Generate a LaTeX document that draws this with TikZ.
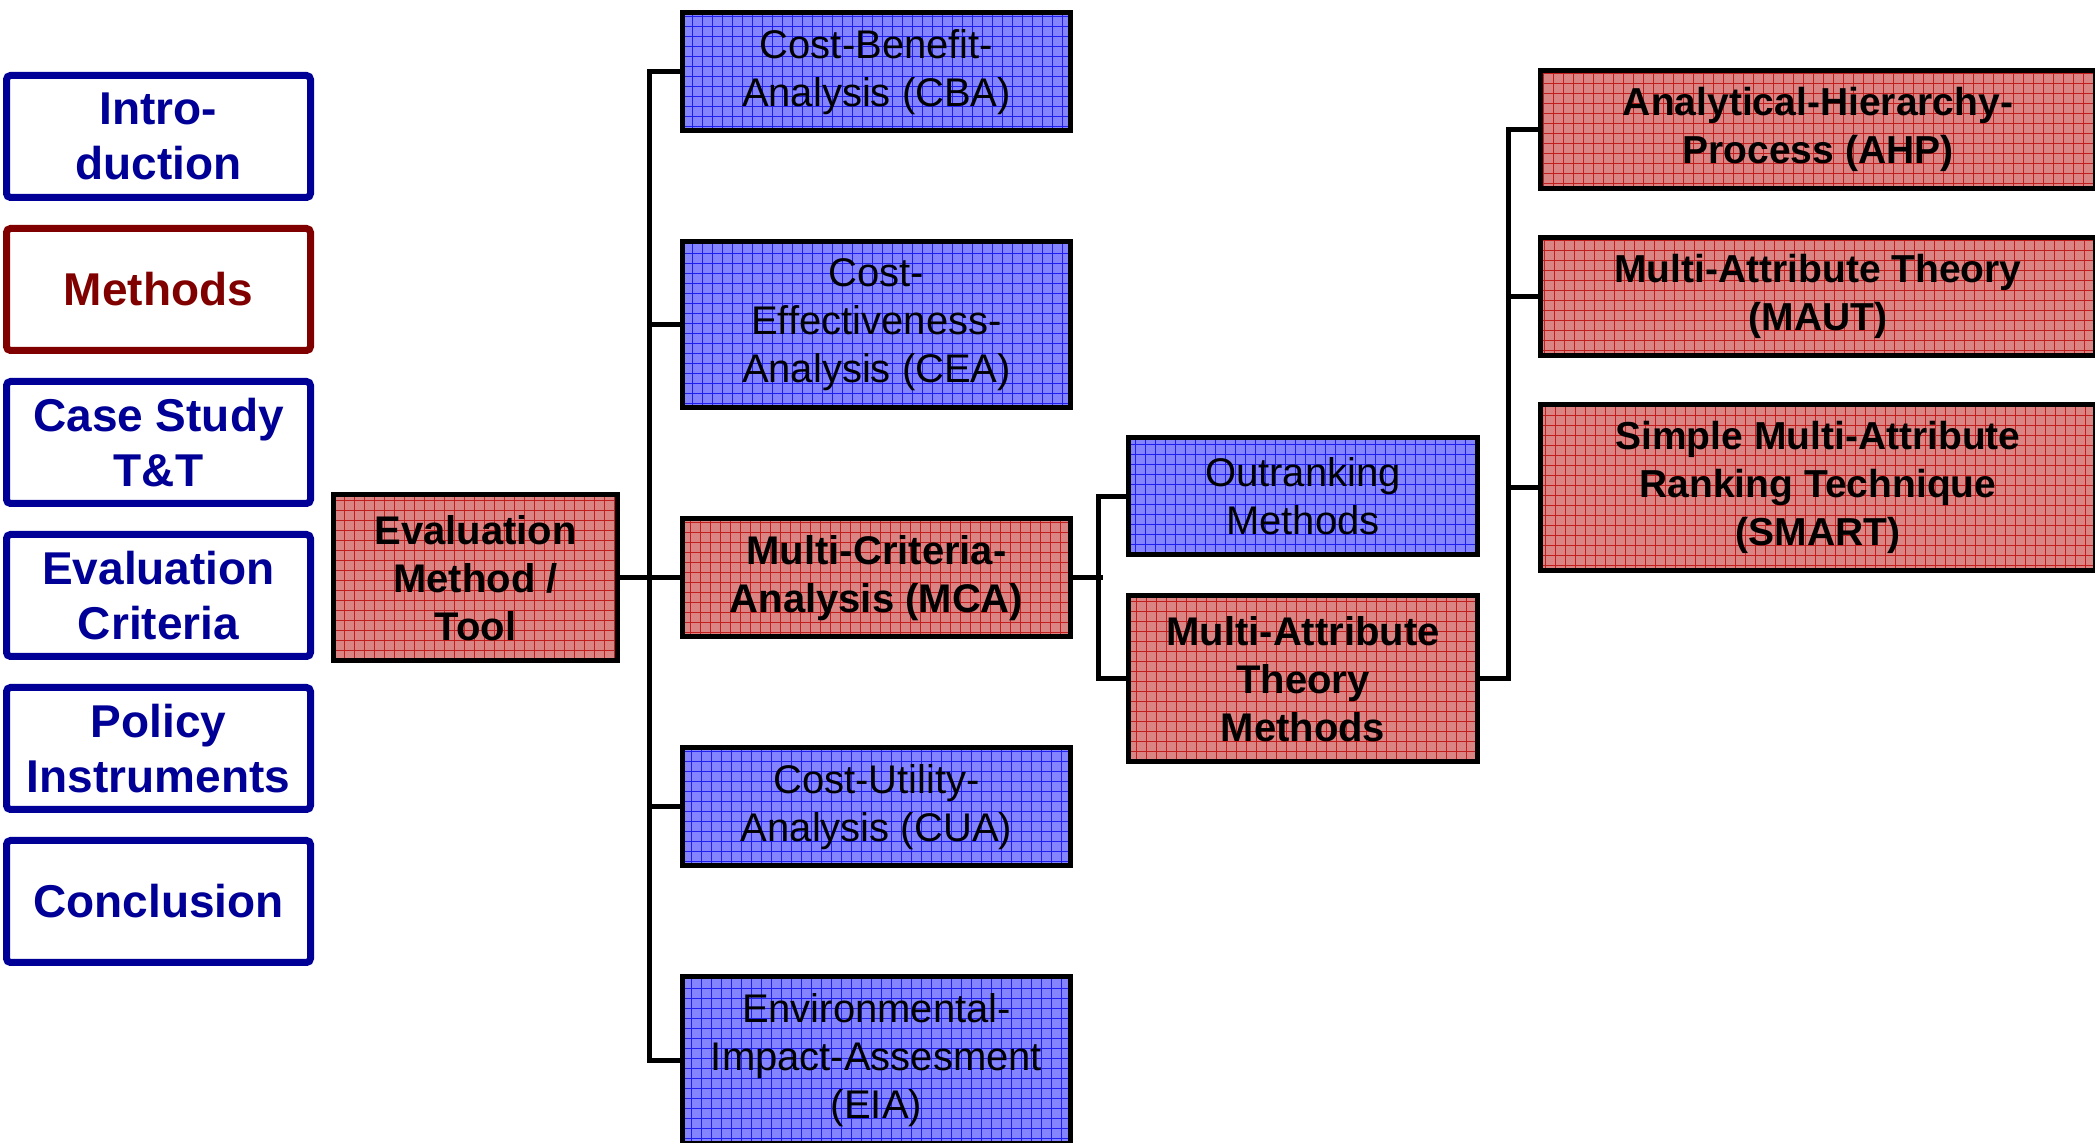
\documentclass[tikz,border=0pt]{standalone}
\usepackage{fontspec}
\setmainfont{Liberation Sans}
\usepackage{xcolor}
\usetikzlibrary{positioning}

\definecolor{navblue}{RGB}{0,0,150}
\definecolor{navred}{RGB}{128,0,0}
\definecolor{fillblue}{RGB}{132,132,255}
\definecolor{fillred}{RGB}{218,132,132}
\definecolor{gridblue}{RGB}{30,30,240}
\definecolor{gridred}{RGB}{195,30,30}

\begin{document}
\begin{tikzpicture}[
    x=0.5pt, y=0.5pt,
    node distance=12pt,
    nav/.style={draw=navblue, text=navblue, line width=3.5pt, rounded corners=2pt,
                minimum width=152pt, minimum height=61pt, align=center,
                font=\fontsize{23}{27.5}\selectfont\bfseries},
    navcur/.style={nav, draw=navred, text=navred},
    box/.style={draw=black, line width=2.5pt, align=center, inner sep=1pt,
                font=\fontsize{20}{24}\selectfont},
    bluebox/.style={box, fill=fillblue,
                path picture={\draw[gridblue, line width=0.3pt, step=5pt]
                  (path picture bounding box.south west) grid (path picture bounding box.north east);}},
    redbox/.style={box, fill=fillred, font=\fontsize{20}{24}\selectfont\bfseries,
                path picture={\draw[gridred, line width=0.3pt, step=5pt]
                  (path picture bounding box.south west) grid (path picture bounding box.north east);}},
    midbox/.style={minimum width=194pt, minimum height=59pt},
    tallbox/.style={minimum width=194pt, minimum height=83pt},
    rightbox/.style={minimum width=277.5pt, minimum height=59pt, font=\fontsize{19.5}{24}\selectfont\bfseries},
    link/.style={line width=2.5pt, color=black}
]
\useasboundingbox (0,0) rectangle (2095,-1143);

% Navigation column
\node[nav] (intro) at (158.5,-136.5) {Intro-\\duction};
\node[navcur, below=of intro] (meth) {Methods};
\node[nav, below=of meth] (case) {Case Study\\T\&T};
\node[nav, below=of case] (crit) {Evaluation\\Criteria};
\node[nav, below=of crit] (policy) {Policy\\Instruments};
\node[nav, below=of policy] (concl) {Conclusion};

% Method column
\node[redbox, midbox] (mca) at (876.5,-578) {Multi-Criteria-\\Analysis (MCA)};
\node[bluebox, tallbox, above=53pt of mca] (cea) {Cost-\\Effectiveness-\\Analysis (CEA)};
\node[bluebox, midbox, above=53pt of cea] (cba) {Cost-Benefit-\\Analysis (CBA)};
\node[bluebox, midbox, below=53pt of mca] (cua) {Cost-Utility-\\Analysis (CUA)};
\node[bluebox, tallbox, below=53pt of cua] (eia) {Environmental-\\Impact-Assesment\\(EIA)};
\node[redbox, minimum width=142pt, minimum height=83pt, left=30pt of mca] (eval) {Evaluation\\Method /\\Tool};

% MCA branches
\node[bluebox, minimum width=174.5pt, minimum height=58.5pt] (outr) at (1303,-496.5) {Outranking\\Methods};
\node[redbox, minimum width=174.5pt, minimum height=83pt, below=18pt of outr] (mat) {Multi-Attribute\\Theory\\Methods};

% Multi-attribute techniques
\node[redbox, rightbox] (ahp) at (1818,-129.5) {Analytical-Hierarchy-\\Process (AHP)};
\node[redbox, rightbox, below=22pt of ahp] (maut) {Multi-Attribute Theory\\(MAUT)};
\node[redbox, rightbox, minimum height=83pt, below=22pt of maut] (smart) {Simple Multi-Attribute\\Ranking Technique\\(SMART)};

% Tree connectors
\draw[link] (eval) -- (mca);
\draw[link] (cba.west) -- ++(-15.5pt,0) |- (eia.west);
\draw[link] (cea.west) -- ++(-15.5pt,0);
\draw[link] (cua.west) -- ++(-15.5pt,0);

\draw[link] (mca.east) -- ++(15pt,0);
\draw[link] (outr.west) -- ++(-14pt,0) |- (mat.west);

\draw[link] (ahp.west) -- ++(-15pt,0) |- (mat.east);
\draw[link] (maut.west) -- ++(-15pt,0);
\draw[link] (smart.west) -- ++(-15pt,0);

\end{tikzpicture}
\end{document}
